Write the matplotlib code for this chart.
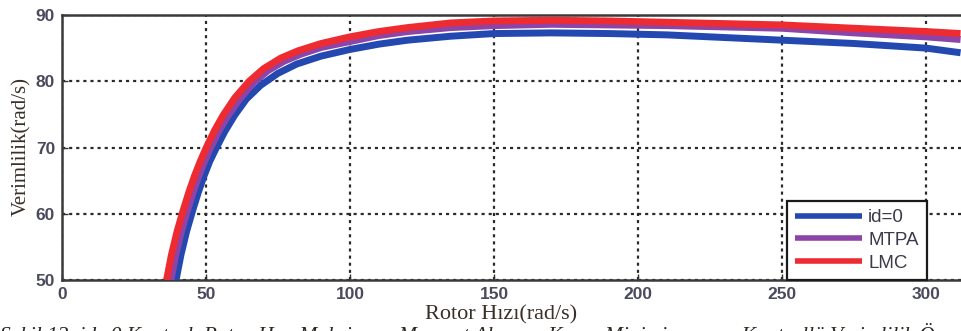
import matplotlib
matplotlib.use("Agg")
import matplotlib.pyplot as plt

# Efficiency vs rotor speed for three control strategies
speed_id0 = [39.6, 41.3, 43.3, 45.3, 47.3, 49.3, 51.3, 53.3, 56.5, 60, 64, 69, 75, 81.5, 90,
             100, 110, 120, 135, 150, 170, 190, 210, 230, 250, 275, 300, 312]
eff_id0 = [50.0, 53.8, 57.4, 60.4, 63.2, 65.7, 67.9, 69.7, 72.4, 74.9, 77.3, 79.4, 81.2, 82.6, 83.8,
           84.8, 85.6, 86.2, 86.8, 87.2, 87.3, 87.2, 87.0, 86.6, 86.2, 85.7, 85.0, 84.3]

speed_mtpa = [37.8, 39.5, 41.5, 43.5, 45.5, 47.5, 49.5, 51.5, 54.5, 57.5, 61.5, 66.5, 71.5, 77, 83, 90,
              100, 110, 120, 135, 150, 170, 190, 210, 230, 250, 275, 300, 312]
eff_mtpa = [50.0, 53.8, 57.4, 60.4, 63.2, 65.7, 67.9, 69.9, 72.5, 74.7, 77.2, 79.8, 81.6, 83.0, 84.1, 85.1,
            86.0, 86.9, 87.5, 88.1, 88.4, 88.6, 88.5, 88.4, 88.2, 88.0, 87.3, 86.7, 86.3]

speed_lmc = [36.3, 38, 40, 42, 44, 46, 48, 50, 53, 56, 60, 65, 70, 76, 82, 90,
             100, 110, 120, 135, 150, 170, 190, 210, 230, 250, 275, 300, 312]
eff_lmc = [50.0, 53.8, 57.4, 60.4, 63.2, 65.7, 67.9, 69.9, 72.6, 74.9, 77.5, 80.0, 81.9, 83.5, 84.6, 85.7,
           86.7, 87.5, 88.1, 88.8, 89.1, 89.2, 89.1, 88.9, 88.7, 88.5, 88.0, 87.5, 87.2]

series_labels = ["id=0", "MTPA", "LMC"]
series_colors = ["#2348b0", "#8c44a8", "#ee2b30"]

x_ticks = [0, 50, 100, 150, 200, 250, 300]
y_ticks = [50, 60, 70, 80, 90]

W, H = 961, 331
fig = plt.figure(figsize=(W / 100, H / 100), dpi=100)
fig.patch.set_facecolor("white")

left_px, right_px, top_px, bottom_px = 62, 961, 15, 280
ax = fig.add_axes([left_px / W, 1 - bottom_px / H,
                   (right_px - left_px) / W, (bottom_px - top_px) / H])

for xs, ys, lab, col in zip([speed_id0, speed_mtpa, speed_lmc],
                            [eff_id0, eff_mtpa, eff_lmc],
                            series_labels, series_colors):
    ax.plot(xs, ys, color=col, lw=5.0, label=lab, solid_capstyle="butt",
            solid_joinstyle="round", zorder=3)

ax.set_xlim(0, (right_px - left_px) / 2.88)
ax.set_ylim(50, 90)
ax.set_xticks(x_ticks)
ax.set_yticks(y_ticks)

tick_color = "#4a4a5c"
ax.tick_params(direction="in", length=4, width=1, color="#333333",
               labelsize=12.5, labelcolor=tick_color, pad=5)
for lbl in ax.get_xticklabels() + ax.get_yticklabels():
    lbl.set_fontweight("bold")
    lbl.set_fontfamily("Liberation Sans")

ax.grid(True, color="#2a2a2a", linestyle=(0, (1.4, 1.8)), linewidth=1.6,
        zorder=1)
ax.set_axisbelow(True)

for side in ["left", "bottom", "top"]:
    ax.spines[side].set_color("#3a3a3a")
    ax.spines[side].set_linewidth(1.8)
ax.spines["right"].set_visible(False)

leg = ax.legend(loc="lower right", bbox_to_anchor=((927 - left_px) / (right_px - left_px), 0.0),
                borderaxespad=0, frameon=True, fancybox=False,
                handlelength=3.6, handletextpad=0.3, labelspacing=0.3,
                borderpad=0.45, prop={"family": "Liberation Sans", "size": 13.5})
leg.get_frame().set_edgecolor("#1a1a1a")
leg.get_frame().set_linewidth(1.6)
leg.get_frame().set_facecolor("white")
leg.get_frame().set_alpha(1)
for line in leg.get_lines():
    line.set_linewidth(4)
for txt in leg.get_texts():
    txt.set_color("#3a3a4a")

fig.text(22 / W, 1 - 147 / H, "Verimlilik(rad/s)", rotation=90,
         ha="center", va="center", family="Liberation Serif",
         fontsize=15, color="#3a3028")
fig.text(501 / W, 1 - 315 / H, "Rotor Hızı(rad/s)", ha="center",
         va="center", family="Liberation Serif", fontsize=16,
         color="#3a3028")

fig.text(0.0, 1 - 323 / H,
         "Şekil 13. id=0 Kontrol, Rotor Hızı Maksimum Moment Akım ve Kayıp Minimizasyonu Kontrollü Verimlilik Ö",
         ha="left", va="top", family="Liberation Serif", style="italic",
         fontsize=15.5, color="#2a2520")

fig.savefig("out.png", dpi=100)
